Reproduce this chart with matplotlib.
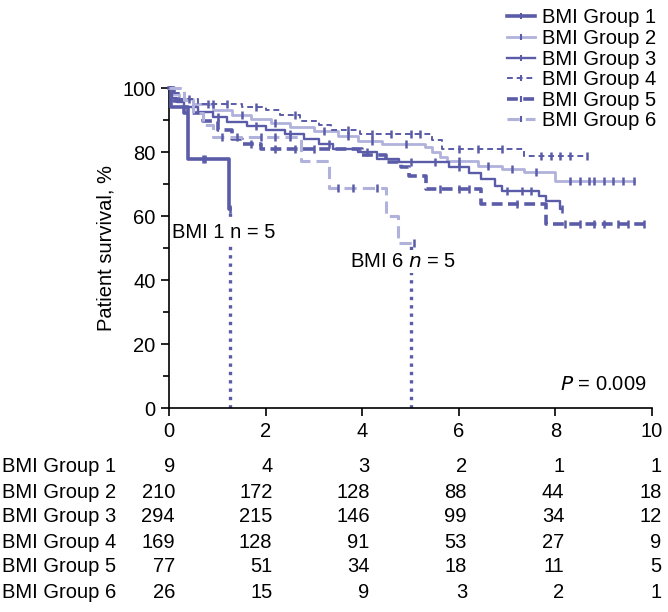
import numpy as np
import matplotlib
matplotlib.use('Agg')
import matplotlib.pyplot as plt
from matplotlib.transforms import blended_transform_factory

plt.rcParams['font.family'] = ['Liberation Sans', 'DejaVu Sans']
plt.rcParams['font.size'] = 14.5

oscuro = '#5a5ca8'
claro = '#b0b2dc'

grupos = ['BMI Group 1', 'BMI Group 2', 'BMI Group 3', 'BMI Group 4', 'BMI Group 5', 'BMI Group 6']

# curvas de Kaplan-Meier (tiempo en anos, supervivencia en %)
t1 = [0, 0.03, 0.39, 1.23]
s1 = [100, 94, 77.8, 62.2]
fin1 = 1.25
c1 = [0.7, 0.75, 1.25]

t2 = [0, 0.05, 0.2, 0.5, 0.9, 1.3, 1.7, 2.1, 2.5, 3.0, 3.5, 3.9, 4.4, 5.3, 5.45, 5.6, 5.75, 6.4, 6.9, 7.35, 8.0]
s2 = [100, 98, 96.5, 95, 93, 91.5, 90.2, 89, 87.8, 86.5, 85, 83.5, 82.5, 81.5, 80, 78.5, 77.3, 75.7, 74.7, 73.6, 71.0]
fin2 = 9.63
c2 = [0.8, 1.5, 2.2, 3.2, 3.7, 4.2, 4.9, 6.0, 6.6, 7.1, 7.6, 8.3, 8.5, 8.7, 8.8, 9.0, 9.2, 9.4, 9.63]

t3 = [0, 0.05, 0.15, 0.3, 0.6, 0.9, 1.2, 1.6, 2.0, 2.4, 2.8, 3.1, 3.4, 3.9, 4.3, 4.75, 5.8, 6.2, 6.45, 6.75, 6.9, 7.66, 7.8, 8.1]
s3 = [100, 97, 95.5, 94, 92.5, 91, 89.5, 88, 86.8, 85.5, 84, 82.5, 81, 80, 77.8, 76.8, 75.2, 73.5, 71.5, 69.5, 67.9, 66.3, 64.7, 62.1]
fin3 = 8.14
c3 = [0.5, 1.0, 1.8, 2.5, 3.3, 4.1, 5.0, 5.5, 6.0, 7.0, 7.3, 7.5, 8.14]

t4 = [0, 0.05, 0.2, 0.6, 1.5, 2.0, 2.3, 2.7, 3.1, 3.35, 3.95, 5.45, 5.66, 7.35]
s4 = [100, 98.5, 96.6, 95, 94, 93, 91.6, 89.8, 88.5, 87, 85.7, 83.6, 81, 78.9]
fin4 = 8.66
c4 = [0.4, 0.9, 1.2, 1.8, 2.6, 3.7, 4.2, 4.6, 5.0, 5.2, 6.0, 6.4, 6.9, 7.7, 7.9, 8.1, 8.3, 8.66]

t5 = [0, 0.1, 0.3, 0.7, 1.0, 1.3, 1.5, 1.9, 4.0, 4.5, 4.8, 4.97, 5.32, 6.45, 7.8]
s5 = [100, 96, 92.2, 89.6, 86.9, 84.2, 82.5, 81, 79, 77, 75.2, 72.6, 68.4, 63.7, 57.4]
fin5 = 9.83
c5 = [1.7, 2.2, 2.6, 3.0, 5.6, 6.0, 6.2, 7.2, 8.2, 8.5, 8.8, 9.0, 9.3, 9.5, 9.83]

t6 = [0, 0.3, 0.5, 0.7, 0.9, 2.73, 3.31, 4.49, 4.73]
s6 = [100, 96.2, 92.3, 88.5, 84.6, 77.3, 68.6, 60.0, 51.5]
fin6 = 5.07
c6 = [1.1, 1.4, 1.9, 2.2, 2.5, 3.5, 3.8, 4.3, 5.07]

# pacientes en riesgo
anos = [0, 2, 4, 6, 8, 10]
riesgo = [
    [9, 4, 3, 2, 1, 1],
    [210, 172, 128, 88, 44, 18],
    [294, 215, 146, 99, 34, 12],
    [169, 128, 91, 53, 27, 9],
    [77, 51, 34, 18, 11, 5],
    [26, 15, 9, 3, 2, 1],
]

curvas = [(t1, s1, fin1, c1), (t2, s2, fin2, c2), (t3, s3, fin3, c3),
          (t4, s4, fin4, c4), (t5, s5, fin5, c5), (t6, s6, fin6, c6)]
estilos = [
    dict(color=oscuro, lw=2.6, ls='-'),
    dict(color=claro, lw=2.0, ls='-'),
    dict(color=oscuro, lw=1.7, ls='-'),
    dict(color=oscuro, lw=1.4, ls=(0, (3, 2))),
    dict(color=oscuro, lw=2.6, ls=(0, (3, 1.5))),
    dict(color=claro, lw=2.2, ls=(0, (4, 2))),
]

fig = plt.figure(figsize=(6.68, 6.12), dpi=100)
ax = fig.add_axes([0.2534, 0.3333, 0.7226, 0.5229])

for (t, s, fin, cens), est, nombre in zip(curvas, estilos, grupos):
    x = list(t) + [fin]
    y = list(s) + [s[-1]]
    ax.step(x, y, where='post', clip_on=False, zorder=3, **est)
    idx = np.searchsorted(t, cens, side='right') - 1
    yc = np.array(s)[idx]
    ax.plot(cens, yc, ls='none', marker='|', ms=6, mew=1.8, color=oscuro, clip_on=False, zorder=3)
    ax.plot([], [], marker='|', ms=5, mew=1.5, mec=oscuro, label=nombre, **est)

# lineas punteadas hasta cero
ax.plot([fin1, fin1], [0, s1[-1]], color=oscuro, lw=2.4, ls=(0, (1, 1.5)), zorder=2)
ax.plot([fin6 - 0.06, fin6 - 0.06], [0, s6[-1]], color=oscuro, lw=2.4, ls=(0, (1, 1.5)), zorder=2)

caja = dict(facecolor='white', edgecolor='none', pad=1.5)
ax.text(0.06, 55, 'BMI 1 n = 5', va='center', ha='left', bbox=caja, zorder=5)
ax.text(3.74, 45.9, 'BMI 6 $\\it{n}$ = 5', va='center', ha='left', bbox=caja, zorder=5)
ax.text(9.88, 7.2, '$\\it{P}$ = 0.009', va='center', ha='right')

ax.set_xlim(0, 10)
ax.set_ylim(0, 100)
ax.set_xticks(anos)
ax.set_yticks([0, 20, 40, 60, 80, 100])
ax.set_yticks(np.arange(10, 100, 20), minor=True)
ax.tick_params(axis='both', labelsize=14.5, length=6, width=1.2, direction='out', pad=4)
ax.tick_params(axis='y', which='minor', length=4, width=1.2)
ax.spines['top'].set_visible(False)
ax.spines['right'].set_visible(False)
ax.spines['left'].set_linewidth(1.2)
ax.spines['bottom'].set_linewidth(1.2)
ax.set_ylabel('Patient survival, %', labelpad=5)

# tabla de pacientes en riesgo
filas_y = 1 - np.array([467, 492, 517, 542, 567, 592]) / 612
trans = blended_transform_factory(ax.transData, fig.transFigure)
for nombre, fila, fy in zip(grupos, riesgo, filas_y):
    fig.text(0.003, fy, nombre, va='center', ha='left')
    for a, n in zip(anos, fila):
        ax.text(a + 0.12 + 0.008 * a, fy, str(n), va='center', ha='right', transform=trans)

fig.legend(loc='upper right', bbox_to_anchor=(1.0, 1.006), frameon=False,
           handlelength=1.35, handletextpad=0.35, labelspacing=0.08, borderpad=0.1)

fig.savefig('out.png', dpi=100)
